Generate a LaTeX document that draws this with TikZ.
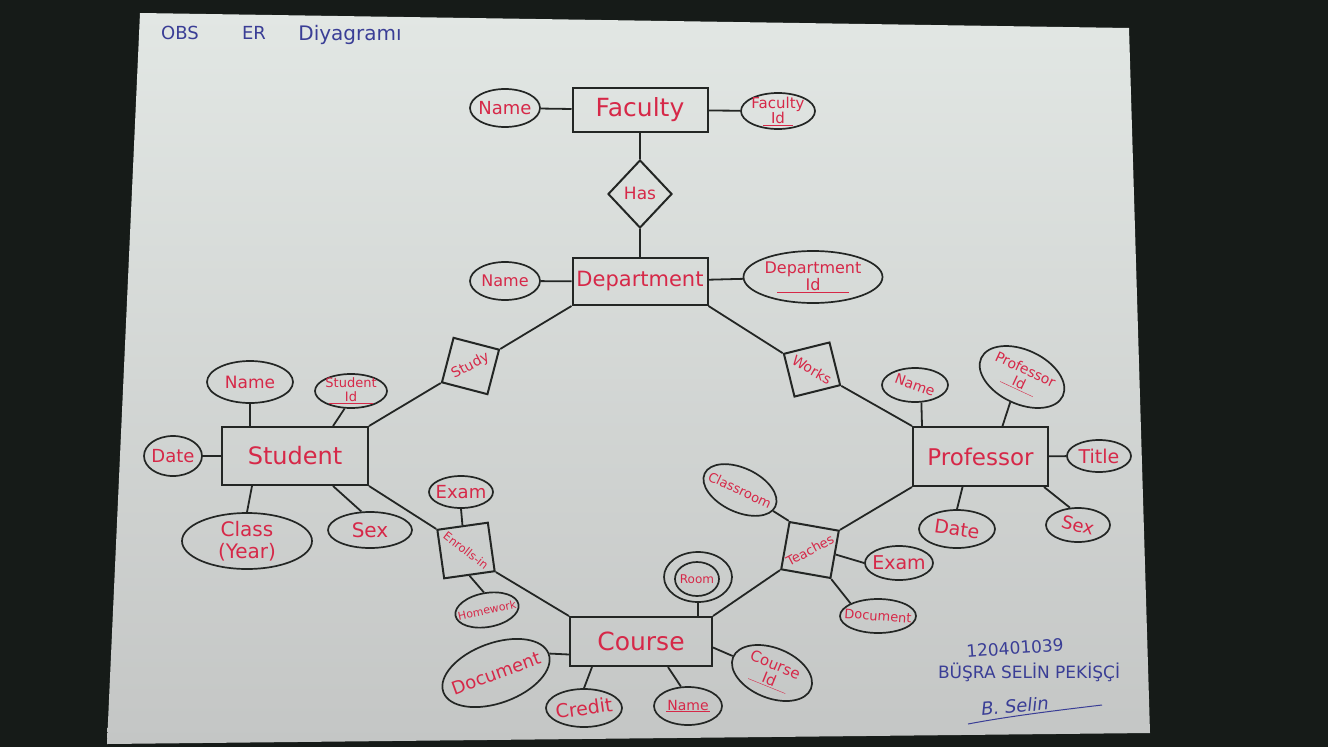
\documentclass[tikz,border=0pt]{standalone}
\usepackage{fontspec}
\setmainfont{DejaVu Sans}
\usetikzlibrary{shapes.geometric,calc}
\definecolor{ink}{RGB}{35,38,36}
\definecolor{redink}{RGB}{214,40,72}
\definecolor{blueink}{RGB}{58,62,150}
\definecolor{bgdark}{RGB}{22,27,24}
\definecolor{papertop}{RGB}{226,231,228}
\definecolor{paperbot}{RGB}{196,198,197}
\newcommand\fsz[2]{\fontsize{#1}{#2}\selectfont}
\newcommand\ulbox[2]{\underline{\makebox[#1]{#2}}}
\begin{document}
\begin{tikzpicture}[x=1pt,y=-1pt,
 ent/.style={draw=ink,line width=2pt,rectangle,inner sep=0pt,text=redink},
 attr/.style={draw=ink,line width=1.7pt,ellipse,inner sep=0pt},
 rel/.style={draw=ink,line width=2pt,rectangle,inner sep=0pt},
 relh/.style={draw=ink,line width=2pt,diamond,inner sep=0pt},
 lbl/.style={text=redink,inner sep=0pt,align=center},
 link/.style={draw=ink,line width=1.8pt},
 bluetxt/.style={text=blueink,inner sep=0pt}]
\fill[bgdark] (0,0) rectangle (1328,747);
\useasboundingbox (0,0) rectangle (1328,747);
\shade[top color=papertop,bottom color=paperbot] (140,13) -- (1129,28) -- (1150,733) -- (107,744) -- cycle;

% title
\node[bluetxt,font=\fsz{18}{20}] (t1) at (180,33) {OBS};
\node[bluetxt,font=\fsz{18}{20}] (t2) at (254,33) {ER};
\node[bluetxt,font=\fsz{20}{22}] (t3) at (350,35) {Diyagramı};

% entities
\node[ent,minimum width=135,minimum height=44,font=\fsz{25}{28}] (faculty) at (640,110) {Faculty};
\node[ent,minimum width=135,minimum height=47,font=\fsz{21}{24}] (dept) at (640,281.5) {Department};
\node[ent,minimum width=146,minimum height=58,font=\fsz{24}{28}] (student) at (295,456) {Student};
\node[ent,minimum width=135,minimum height=59,font=\fsz{23}{26}] (prof) at (980.5,456.5) {Professor};
\node[ent,minimum width=142,minimum height=49,font=\fsz{25}{28}] (course) at (641,641.5) {Course};

% relationships
\node[relh,minimum width=64,minimum height=68] (has) at (640,194) {};
\node[lbl,font=\fsz{17}{20}] (hasT) at (640,193) {Has};
\node[rel,minimum width=47,minimum height=46,rotate=-14.6] (study) at (470.5,366) {};
\node[lbl,rotate=28,font=\fsz{14}{16}] (studyT) at (study) {Study};
\node[rel,minimum width=47,minimum height=44,rotate=14] (works) at (812,369.5) {};
\node[lbl,rotate=-30,font=\fsz{14}{16}] (worksT) at (works) {Works};
\node[rel,minimum width=51,minimum height=49,rotate=8] (enrolls) at (466,550.5) {};
\node[lbl,rotate=-38,font=\fsz{11.5}{13}] (enrollsT) at (enrolls) {Enrolls-in};
\node[rel,minimum width=50,minimum height=48,rotate=-10] (teaches) at (810,550) {};
\node[lbl,rotate=28,font=\fsz{13}{15}] (teachesT) at (teaches) {Teaches};

% attributes: faculty / department
\node[attr,minimum width=70,minimum height=38] (fname) at (505,108) {};
\node[lbl,font=\fsz{18}{20}] (fnameT) at (fname) {Name};
\node[attr,minimum width=74,minimum height=36] (fid) at (778,111) {};
\node[lbl,font=\fsz{15}{15}] (fidT) at (fid) {Faculty\\\ulbox{30pt}{Id}};
\node[attr,minimum width=70,minimum height=38] (dname) at (505,281) {};
\node[lbl,font=\fsz{16}{18}] (dnameT) at (dname) {Name};
\node[attr,minimum width=139,minimum height=52] (did) at (813,277) {};
\node[lbl,font=\fsz{16}{17}] (didT) at (did) {Department\\\ulbox{72pt}{Id}};

% student
\node[attr,minimum width=86,minimum height=42] (sname) at (250,382) {};
\node[lbl,font=\fsz{17}{18}] (snameT) at (sname) {Name};
\node[attr,minimum width=72,minimum height=34] (sid) at (351,391) {};
\node[lbl,font=\fsz{13}{14}] (sidT) at (sid) {Student\\\ulbox{44pt}{Id}};
\node[attr,minimum width=58,minimum height=40] (sdate) at (173,456) {};
\node[lbl,font=\fsz{18}{20}] (sdateT) at (sdate) {Date};
\node[attr,minimum width=130,minimum height=56] (sclass) at (247,541) {};
\node[lbl,font=\fsz{20}{22}] (sclassT) at (sclass) {Class\\(Year)};
\node[attr,minimum width=84,minimum height=36] (ssex) at (370,530) {};
\node[lbl,font=\fsz{20}{22}] (ssexT) at (ssex) {Sex};
\node[attr,minimum width=64,minimum height=32] (sexam) at (461,492) {};
\node[lbl,font=\fsz{18}{20}] (sexamT) at (sexam) {Exam};
\node[attr,minimum width=64,minimum height=34,rotate=10] (hw) at (487,610) {};
\node[lbl,rotate=12,font=\fsz{11}{12}] (hwT) at (hw) {Homework};

% course
\node[attr,minimum width=68,minimum height=50] (roomO) at (698,577) {};
\node[attr,minimum width=44,minimum height=34] (roomI) at (697,579) {};
\node[lbl,font=\fsz{12}{13}] (roomT) at (roomI) {Room};
\node[attr,minimum width=112,minimum height=60,rotate=20] (cdoc) at (496,673) {};
\node[lbl,rotate=20,font=\fsz{18}{19}] (cdocT) at (cdoc) {Document};
\node[attr,minimum width=76,minimum height=38] (credit) at (584,708) {};
\node[lbl,rotate=8,font=\fsz{19}{21}] (creditT) at (credit) {Credit};
\node[attr,minimum width=68,minimum height=38] (cname) at (688,706) {};
\node[lbl,font=\fsz{14}{16}] (cnameT) at (cname) {\ulbox{44pt}{Name}};
\node[attr,minimum width=84,minimum height=50,rotate=-22] (cid) at (772,673) {};
\node[lbl,rotate=-22,font=\fsz{15}{16}] (cidT) at (cid) {Course\\\ulbox{40pt}{Id}};

% teaches attributes
\node[attr,minimum width=78,minimum height=44,rotate=-25] (classroom) at (740,490) {};
\node[lbl,rotate=-25,font=\fsz{13}{15}] (classroomT) at (classroom) {Classroom};
\node[attr,minimum width=68,minimum height=34] (pexam) at (899,563) {};
\node[lbl,font=\fsz{19}{21}] (pexamT) at (pexam) {Exam};
\node[attr,minimum width=76,minimum height=34] (pdoc) at (878,616) {};
\node[lbl,rotate=-4,font=\fsz{13}{15}] (pdocT) at (pdoc) {Document};

% professor
\node[attr,minimum width=66,minimum height=34] (pname) at (915,385) {};
\node[lbl,rotate=-20,font=\fsz{14}{16}] (pnameT) at (pname) {Name};
\node[attr,minimum width=90,minimum height=54,rotate=-25] (pid) at (1022,377) {};
\node[lbl,rotate=-25,font=\fsz{14}{15}] (pidT) at (pid) {Professor\\\ulbox{36pt}{Id}};
\node[attr,minimum width=64,minimum height=32] (title) at (1099,456) {};
\node[lbl,font=\fsz{19}{20}] (titleT) at (title) {Title};
\node[attr,minimum width=76,minimum height=38] (pdate) at (957,529) {};
\node[lbl,rotate=-8,font=\fsz{19}{20}] (pdateT) at (pdate) {Date};
\node[attr,minimum width=64,minimum height=34] (psex) at (1078,525) {};
\node[lbl,rotate=-15,font=\fsz{18}{19}] (psexT) at (psex) {Sex};

% links
\draw[link] (fname) -- (faculty);
\draw[link] (faculty) -- (fid);
\draw[link] (faculty) -- (has);
\draw[link] (has) -- (dept);
\draw[link] (dname) -- (dept);
\draw[link] (dept) -- (did);
\draw[link] (dept.south west) -- (study.north east);
\draw[link] (study.south west) -- (student.north east);
\draw[link] (dept.south east) -- (works.north west);
\draw[link] (works.south east) -- (prof.north west);
\draw[link] (sname.south) -- (sname.south |- student.north);
\draw[link] (sid.250) -- ([xshift=38pt]student.north);
\draw[link] (sdate) -- (student);
\draw[link] (sclass.north) -- ([xshift=-43pt]student.south);
\draw[link] (ssex.115) -- ([xshift=38pt]student.south);
\draw[link] (student.south east) -- (enrolls.north west);
\draw[link] (sexam.south) -- (enrolls.north);
\draw[link] (enrolls.south) -- (hw.north);
\draw[link] (enrolls.south east) -- (course.north west);
\draw[link] (roomO.south) -- (roomO.south |- course.north);
\draw[link] (cdoc.east) -- ([yshift=-13pt]course.west);
\draw[link] (credit.north) -- ([xshift=-49pt]course.south);
\draw[link] (cname.110) -- ([xshift=27pt]course.south);
\draw[link] ([yshift=-6pt]course.east) -- (cid);
\draw[link] (course.north east) -- (teaches.south west);
\draw[link] (classroom) -- (teaches.north west);
\draw[link] (teaches.east) -- (pexam.west);
\draw[link] (teaches.south east) -- (pdoc.north west);
\draw[link] (teaches.north east) -- (prof.south west);
\draw[link] (pname.290) -- ([xshift=10pt]prof.north west);
\draw[link] (pid.south) -- ([xshift=22pt]prof.north);
\draw[link] (prof) -- (title);
\draw[link] (pdate.north) -- ([xshift=-18pt]prof.south);
\draw[link] (psex.115) -- ([xshift=-5pt]prof.south east);

% signature block
\node[bluetxt,rotate=4,font=\fsz{17}{18}] (sno) at (1015,648) {120401039};
\node[bluetxt,font=\fsz{17}{18}] (signame) at (1029,672) {BÜŞRA SELİN PEKİŞÇİ};
\node[bluetxt,rotate=5,font=\itshape\fsz{18}{20}] (sig) at (1015,706) {B. Selin};
\draw[blueink,line width=1pt] (968,724) .. controls (1010,716) and (1060,710) .. (1102,705);
\end{tikzpicture}
\end{document}
